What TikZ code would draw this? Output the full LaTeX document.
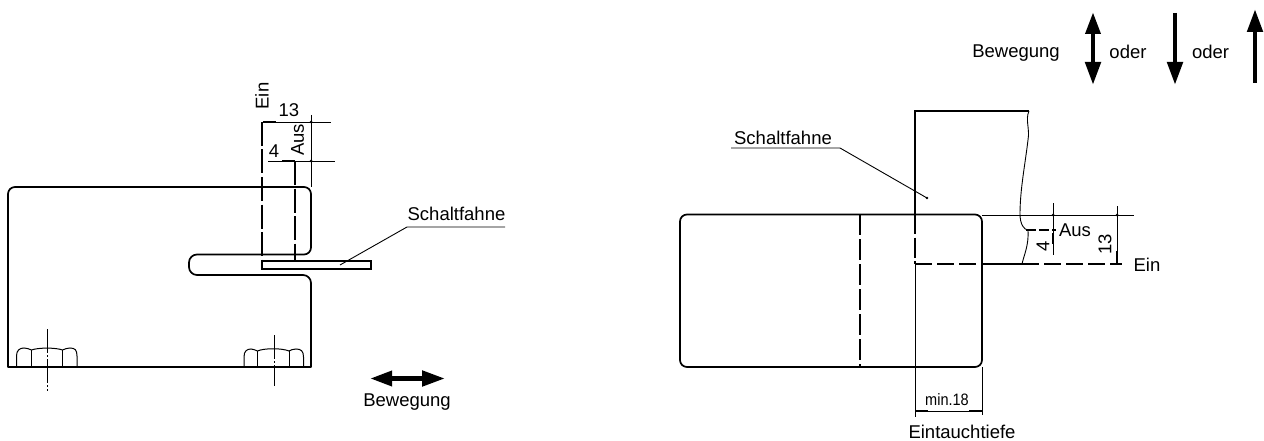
\documentclass[tikz,border=0pt]{standalone}
\usepackage{fontspec}
\setmainfont{Liberation Sans}
\usetikzlibrary{arrows.meta}
\tikzset{
  x=1pt,y=-1pt,
  body/.style={line width=1.7pt,line join=round},
  thin line/.style={line width=0.9pt},
  dash line/.style={line width=1.2pt,dash pattern=on 24pt off 3.5pt},
  centerl/.style={line width=0.8pt,dash pattern=on 24pt off 2pt on 2pt off 2pt},
  lbl/.style={inner sep=0pt,font=\fontsize{18.5}{20}\selectfont,text=black},
  sml/.style={inner sep=0pt,font=\fontsize{16.5}{18}\selectfont,text=black,xscale=0.88},
  bigarrow/.style={line width=4.8pt,-{Triangle[length=23pt,width=15pt]}},
  bigdouble/.style={line width=4.8pt,{Triangle[length=22pt,width=14.5pt]}-{Triangle[length=23pt,width=15pt]}},
}
\begin{document}
\begin{tikzpicture}
\useasboundingbox (0,0) rectangle (1264,441);
% --- left figure: body
\draw[body] (8,367) [rounded corners=7pt] -- (8,187) -- (311,187) -- (311,254.5)
  [rounded corners=8pt] -- (189,254.5) -- (189,275) -- (311,275)
  [rounded corners=7pt] -- (311,300) [sharp corners] -- (311,367) -- cycle;
% tongue
\draw[line width=1.3pt] (262,261) rectangle (371,269);
% dashed positions
\draw[dash line] (262,122) -- (262,261);
\draw[dash line] (295,161) -- (295,261);
% extension + dimension lines
\draw[thin line] (311,115) -- (311,187);
\draw[thin line] (262,122) -- (331,122);
\draw[thin line] (268,161) -- (335,161);
\draw[line width=2pt] (263,122) -- (276,122);
\draw[line width=2pt] (282,161) -- (295,161);
\fill (311,122) circle (1.5pt) (311,161) circle (1.5pt);
% labels
\node[lbl,rotate=90] (einL) at (262,96) {Ein};
\node[lbl] (n13L) at (289,110) {13};
\node[lbl] (n4L) at (274,151) {4};
\node[lbl,rotate=90] (ausL) at (297.5,140) {Aus};
\node[lbl] (schaltL) at (456.5,214) {Schaltfahne};
\coordinate (uL1) at (407,227);
\coordinate (uL2) at (505,227);
\coordinate (tipL) at (340,265);
\draw[thin line] (uL2) -- (uL1) -- (tipL);
% bolts
\draw[line width=1pt] (16.5,367) -- (16.5,356) .. controls (16.5,350) and (20,348) .. (24,348)
  .. controls (27,348) and (29,349) .. (31.5,350) .. controls (38,347.5) and (56,347.5) .. (62.5,350)
  .. controls (65,349) and (67,348) .. (70,348) .. controls (75,348) and (77,350) .. (77,356) -- (77,367);
\draw[line width=1pt] (31.5,367) -- (31.5,350) (62.5,367) -- (62.5,350);
\draw[line width=1pt] (244,367) -- (244,357) .. controls (244,351) and (247,349) .. (251,349)
  .. controls (253,349) and (255,350) .. (257.5,351) .. controls (264,348) and (282,348) .. (289,351)
  .. controls (291,350) and (293,349) .. (296,349) .. controls (301,349) and (303.5,351) .. (303.5,357) -- (303.5,367);
\draw[line width=1pt] (257.5,367) -- (257.5,351) (289,367) -- (289,351);
\draw[centerl] (47,329) -- (47,391);
\draw[centerl] (274,335) -- (274,386);
% bottom arrow
\coordinate (mvA) at (370,378.5);
\coordinate (mvB) at (445,378.5);
\draw[bigdouble] (mvA) -- (mvB);
\node[lbl] (bewL) at (407,402) {Bewegung};

% --- right figure
\draw[body,rounded corners=7pt] (915,214.5) -- (680,214.5) -- (680,367) -- (982,367) -- (982,214.5) -- (915,214.5);
\draw[line width=1.3pt] (915,214) -- (915,111) -- (1029,111);
\draw[thin line] (1029,111) .. controls (1025,120) and (1030,128) .. (1028,140)
  .. controls (1025,165) and (1020,190) .. (1020,214)
  .. controls (1020,224) and (1024,230) .. (1028,230)
  .. controls (1029,245) and (1024,255) .. (1022,264);
\draw[dash line,dash pattern=on 20pt off 3.5pt] (915,214) -- (915,264);
\draw[line width=0.9pt] (915,264) -- (915,417);
\draw[thin line] (982,367) -- (982,415);
\draw[dash line,dash pattern=on 21pt off 4pt] (860,214) -- (860,367);
% Ein line
\draw[dash line,dash pattern=on 17pt off 5pt] (915,264) -- (982,264);
\draw[line width=1.3pt] (982,264) -- (1022,264);
\draw[dash line,dash pattern=on 17pt off 5pt] (1022,264) -- (1122,264);
% Aus line
\draw[dash line,dash pattern=on 10pt off 3pt] (1026,230) -- (1056,230);
% extension
\draw[thin line] (982,215) -- (1134,215);
% dims
\draw[thin line] (1053,203) -- (1053,255);
\draw[line width=2pt] (1053,233) -- (1053,244);
\draw[thin line] (1117,206) -- (1117,264);
\draw[line width=2pt] (1117,251) -- (1117,264);
\fill (1053,215) circle (1.5pt) (1117,215) circle (1.5pt);
% Eintauchtiefe dim
\draw[thin line] (915,411) -- (982,411);
\draw[line width=2pt] (915,411) -- (928,411) (969,411) -- (982,411);
% labels
\node[lbl] (ausR) at (1075,230.5) {Aus};
\node[lbl,rotate=90] (n4R) at (1043,246) {4};
\node[lbl,rotate=90] (n13R) at (1105,244.5) {13};
\node[lbl] (einR) at (1147,265) {Ein};
\node[sml] (minR) at (947,400) {min.18};
\node[lbl] (tiefe) at (962,432) {Eintauchtiefe};
\node[lbl] (schaltR) at (783,138) {Schaltfahne};
\coordinate (uR1) at (731,148);
\coordinate (uR2) at (840,148);
\coordinate (tipR) at (927,198);
\draw[thin line] (uR1) -- (uR2) -- (tipR);
\fill (tipR) circle (1.3pt);
% top arrows
\node[lbl] (bewR) at (1016,53) {Bewegung};
\node[lbl] (oder1) at (1128,52) {oder};
\node[lbl] (oder2) at (1210.5,52) {oder};
\coordinate (a1) at (1093,12); \coordinate (a2) at (1093,85);
\coordinate (b1) at (1175,13); \coordinate (b2) at (1175,85);
\coordinate (c1) at (1255,83); \coordinate (c2) at (1255,9);
\draw[bigdouble] (a1) -- (a2);
\draw[bigarrow] (b1) -- (b2);
\draw[bigarrow] (c1) -- (c2);
\end{tikzpicture}
\end{document}
